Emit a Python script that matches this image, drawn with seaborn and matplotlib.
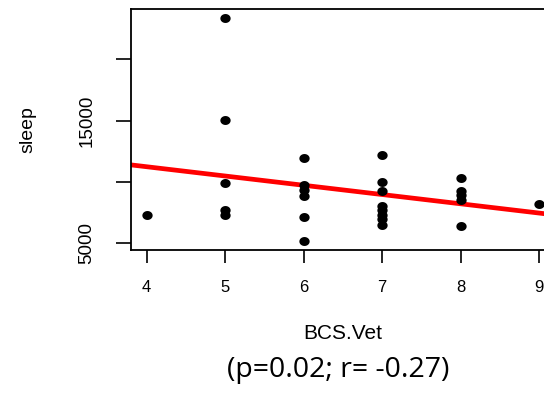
import matplotlib
matplotlib.use("Agg")
import matplotlib.pyplot as plt
import seaborn as sns
import numpy as np
import pandas as pd

# Body condition score (vet-assessed) and nightly sleep measurement
bcs_vet = [4,
           5, 5, 5, 5, 5,
           6, 6, 6, 6, 6, 6,
           7, 7, 7, 7, 7, 7, 7, 7,
           8, 8, 8, 8, 8,
           9]
sleep = [7320,
         23330, 15060, 9910, 7700, 7320,
         11970, 9750, 9320, 8840, 7160, 5190,
         12190, 10030, 9270, 8050, 7700, 7300, 6970, 6480,
         10350, 9270, 8940, 8570, 6380,
         8190]
y_ticks = [5000, 10000, 15000, 20000]
y_tick_labels = ["5000", "", "15000", ""]
x_ticks = [4, 5, 6, 7, 8, 9]
caption = "(p=0.02; r= -0.27)"

df = pd.DataFrame({"BCS.Vet": bcs_vet, "sleep": sleep})

sns.set_theme(style="white")
plt.rcParams["font.family"] = ["Liberation Sans", "DejaVu Sans"]

fig = plt.figure(figsize=(5.44, 3.95), dpi=100)
ax = fig.add_axes([0.2408, 0.367, 1.0197 - 0.2408, 0.9765 - 0.367])

# R-style 4% padding around the data range
xmin, xmax = min(bcs_vet), max(bcs_vet)
ymin, ymax = min(sleep), max(sleep)
xpad = 0.04 * (xmax - xmin)
ypad = 0.04 * (ymax - ymin)
ax.set_xlim(xmin - xpad, xmax + xpad)
ax.set_ylim(ymin - ypad, ymax + ypad)

# slightly flattened dot marker
t = np.linspace(0, 2 * np.pi, 40)
dot = np.column_stack([np.cos(t), 0.87 * np.sin(t)])

sns.scatterplot(data=df, x="BCS.Vet", y="sleep", ax=ax, color="black",
                marker=dot, s=55, edgecolor="black", linewidth=0, zorder=3)
sns.regplot(data=df, x="BCS.Vet", y="sleep", ax=ax, scatter=False,
            ci=None, truncate=False, color="#ff0000",
            line_kws={"linewidth": 3.4, "zorder": 2})
ax.set_xlim(xmin - xpad, xmax + xpad)
ax.set_ylim(ymin - ypad, ymax + ypad)

ax.set_xticks(x_ticks)
ax.set_xticklabels([str(v) for v in x_ticks])
ax.set_yticks(y_ticks)
ax.set_yticklabels(y_tick_labels, rotation=90, va="center")

ax.tick_params(axis="x", direction="out", length=9.3, width=1.2,
               colors="black", labelsize=12, pad=12, bottom=True)
ax.tick_params(axis="y", direction="out", length=10.8, width=1.2,
               colors="black", labelsize=13.5, pad=15, left=True)

for s in ax.spines.values():
    s.set_color("black")
    s.set_linewidth(1.3)

ax.set_xlabel("BCS.Vet", fontsize=15, color="black", va="center")
ax.xaxis.set_label_coords(0.5, -0.346)
ax.set_ylabel("sleep", fontsize=14, color="black", va="center")
ax.yaxis.set_label_coords(-0.243, 0.5)

fig.text(0.621, 0.063, caption, ha="center", va="center", fontsize=20.5,
         family=["Open Sans", "DejaVu Sans"], color="black")

fig.savefig("out.png", dpi=100)
